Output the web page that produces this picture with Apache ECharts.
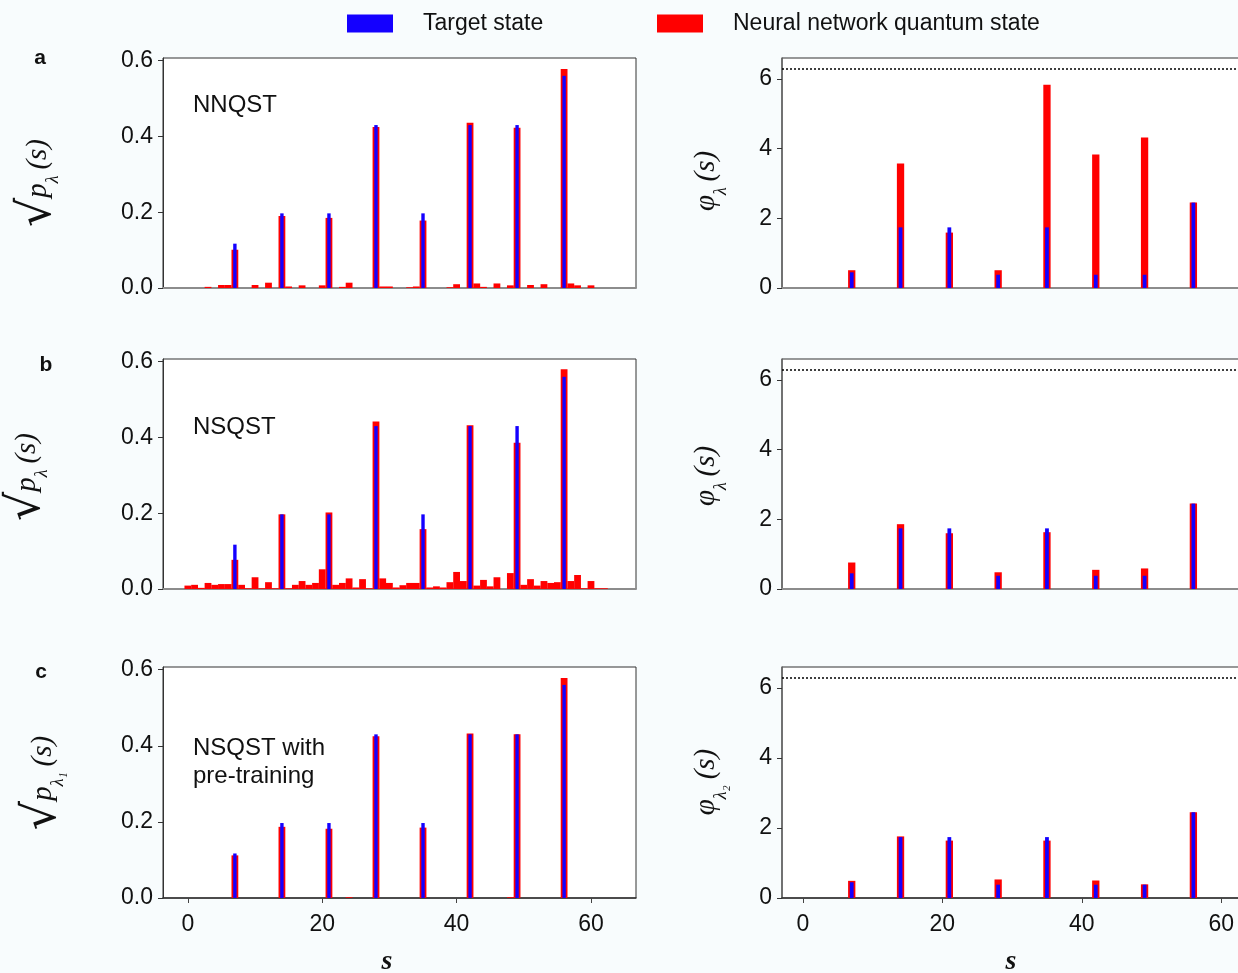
<!DOCTYPE html>
<html>
<head>
<meta charset="utf-8">
<script src="https://cdn.jsdelivr.net/npm/echarts@6/dist/echarts.min.js"></script>
<style>
html,body{margin:0;padding:0;background:#f8fcfd;}
#chart{width:1238px;height:973px;}
</style>
</head>
<body>
<div id="chart"></div>
<script>
// ---------------- data ----------------
const states = [0,1,2,3,4,5,6,7,8,9,10,11,12,13,14,15,16,17,18,19,20,21,22,23,24,25,26,27,28,29,30,31,
                32,33,34,35,36,37,38,39,40,41,42,43,44,45,46,47,48,49,50,51,52,53,54,55,56,57,58,59,60,61,62,63];
const peakStates = [7,14,21,28,35,42,49,56];

// target state (same in every row)
const targetAmp   = [0.117,0.197,0.197,0.430,0.197,0.430,0.430,0.560];
const targetPhase = [0.45,1.74,1.74,0.38,1.74,0.38,0.38,2.45];

// neural network quantum state amplitudes, s = 0..63
const ampNNQST = [0,0,0,0.003,0,0.008,0.008,0.101,0,0,0.008,0,0.014,0,0.190,0.004,
                  0,0.007,0,0,0.007,0.185,0,0.003,0.014,0,0,0,0.425,0.004,0.004,0,
                  0,0.002,0.004,0.178,0,0,0,0.002,0.010,0,0.436,0.012,0.003,0,0.012,0,
                  0.007,0.423,0,0.008,0,0.010,0,0,0.578,0.012,0.007,0,0.007,0,0,0];
const ampNSQST = [0.009,0.011,0.003,0.016,0.011,0.013,0.013,0.077,0.011,0.002,0.031,0.002,0.018,0.002,0.197,0.002,
                  0.011,0.021,0.011,0.016,0.052,0.202,0.011,0.016,0.028,0.004,0.026,0.002,0.442,0.028,0.016,0.004,
                  0.010,0.016,0.016,0.158,0.004,0.007,0.004,0.018,0.045,0.021,0.432,0.009,0.024,0.007,0.031,0,
                  0.042,0.386,0.011,0.026,0.009,0.021,0.016,0.018,0.580,0.021,0.037,0.002,0.021,0.002,0.002,0];
const ampPretrain = [0,0,0,0,0,0,0,0.112,0,0,0,0,0,0,0.187,0,
                     0,0,0,0,0,0.182,0,0,0.002,0,0,0,0.425,0,0,0,
                     0,0,0,0.185,0,0,0,0,0,0,0.432,0,0,0,0,0,
                     0.002,0.430,0,0,0,0,0,0,0.578,0,0,0,0,0,0,0];

// phases at the peak states
const phaseNNQST    = [0.51,3.57,1.59,0.51,5.83,3.83,4.32,2.45];
const phaseNSQST    = [0.76,1.86,1.60,0.48,1.63,0.55,0.59,2.45];
const phasePretrain = [0.49,1.76,1.64,0.53,1.64,0.50,0.39,2.45];

const ampTicks = [0,0.2,0.4,0.6];
const phaseTicks = [0,2,4,6];
const sTicks = [0,20,40,60];
const PHASE_PERIOD = 2 * Math.PI;

const NAME_TARGET = 'Target state';
const NAME_NN = 'Neural network quantum state';

// ---------------- layout ----------------
const SANS = '"Liberation Sans", Arial, sans-serif';
const SERIF = '"Liberation Serif", "Times New Roman", serif';
const rows = [{top:58,height:230},{top:359,height:230},{top:667,height:231}];
const L = {left:163, width:473, min:-3.7, max:66.7, ymax:0.607, redW:6.8, blueW:3.4};
const R = {left:782, width:486, min:-3.0, max:66.7, ymax:6.6, redW:7.3, blueW:3.8};

const panels = [
  {row:0, side:L, kind:'amp',   red:states.map((s,i)=>[s, ampNNQST[i]]),    blue:peakStates.map((s,i)=>[s,targetAmp[i]])},
  {row:0, side:R, kind:'phase', red:peakStates.map((s,i)=>[s, phaseNNQST[i]]), blue:peakStates.map((s,i)=>[s,targetPhase[i]])},
  {row:1, side:L, kind:'amp',   red:states.map((s,i)=>[s, ampNSQST[i]]),    blue:peakStates.map((s,i)=>[s,targetAmp[i]])},
  {row:1, side:R, kind:'phase', red:peakStates.map((s,i)=>[s, phaseNSQST[i]]), blue:peakStates.map((s,i)=>[s,targetPhase[i]])},
  {row:2, side:L, kind:'amp',   red:states.map((s,i)=>[s, ampPretrain[i]]), blue:peakStates.map((s,i)=>[s,targetAmp[i]])},
  {row:2, side:R, kind:'phase', red:peakStates.map((s,i)=>[s, phasePretrain[i]]), blue:peakStates.map((s,i)=>[s,targetPhase[i]])}
];

const grid = [], xAxis = [], yAxis = [], series = [];
panels.forEach((p, k) => {
  const side = p.side, row = rows[p.row];
  const bottomRow = p.row === 2;
  grid.push({left:side.left, top:row.top, width:side.width, height:row.height,
             show:true, backgroundColor:'#ffffff', borderColor:'#333', borderWidth:1,
             containLabel:false, outerBoundsMode:'none'});
  const xBase = {type:'value', gridIndex:k, min:side.min, max:side.max, splitLine:{show:false}};
  xAxis.push(Object.assign({}, xBase, {
    position:'bottom',
    axisLine:{show:true, onZero:false, lineStyle:{color: bottomRow ? '#333' : '#8c8c8c', width: bottomRow ? 1.5 : 2}},
    axisTick:{show:bottomRow, length:5, inside:false, customValues:sTicks, lineStyle:{color:'#444', width:1}},
    axisLabel:{show:bottomRow, customValues:sTicks, fontSize:23, fontFamily:SANS, color:'#111', margin:15}
  }));
  xAxis.push(Object.assign({}, xBase, {show:false}));
  const isAmp = p.kind === 'amp';
  const ticks = isAmp ? ampTicks : phaseTicks;
  yAxis.push({type:'value', gridIndex:k, min:0, max:side.ymax, splitLine:{show:false},
    axisLine:{show:true, onZero:false, lineStyle:{color: isAmp ? '#333' : '#666', width: isAmp ? 1 : 1.5}},
    axisTick:{show:true, length:5, customValues:ticks, lineStyle:{color:'#333'}},
    axisLabel:{customValues:ticks, fontSize:23, fontFamily:SANS, color:'#111', margin:10,
               formatter: v => isAmp ? v.toFixed(1) : String(v)}
  });
  const red = {type:'bar', name:NAME_NN, xAxisIndex:2*k, yAxisIndex:k, barWidth:side.redW,
               itemStyle:{color:'#ff0000'}, data:p.red, z:2, silent:true};
  if (!isAmp) {
    red.markLine = {silent:true, symbol:['none','none'], label:{show:false},
                    lineStyle:{color:'#000', type:[2,2], width:1.5},
                    data:[{yAxis:PHASE_PERIOD}]};
  }
  series.push(red);
  series.push({type:'bar', name:NAME_TARGET, xAxisIndex:2*k+1, yAxisIndex:k, barWidth:side.blueW,
               itemStyle:{color:'#1400ff'}, data:p.blue, z:3, silent:true});
});

function legendOf(name, left){
  return {left:left, top:12, padding:0, itemWidth:46, itemHeight:18, icon:'rect',
          selectedMode:false, data:[name],
          formatter: n => '{g|}{t|' + n + '}',
          textStyle:{rich:{g:{width:25}, t:{fontSize:23, fontFamily:SANS, color:'#111'}}}};
}

function yName(x, y, sqrt, sym, sub){
  const text = (sqrt ? '{r|√}' : '') + '{p|' + sym + '}{b|' + sub + '}{s|\u2009(s)}';
  return {type:'text', x:x, y:y, rotation:Math.PI/2, silent:true,
    style:{text:text, align:'center', verticalAlign:'middle', fill:'#111',
      rich:{
        r:{fontSize:46, fontFamily:'"DejaVu Serif", serif', lineHeight:48, fill:'#111'},
        p:{fontSize:29, fontStyle:'italic', fontFamily:SERIF, lineHeight:48, fill:'#111'},
        b:{fontSize:18, fontStyle:'italic', fontFamily:SERIF, lineHeight:30, verticalAlign:'bottom', fill:'#111'},
        s:{fontSize:29, fontStyle:'italic', fontFamily:SERIF, lineHeight:48, fill:'#111'}
      }}};
}
function plain(x, y, txt, font, align){
  return {type:'text', x:x, y:y, silent:true,
          style:{text:txt, font:font, fill:'#111', align:align||'left', verticalAlign:'middle', lineHeight:28}};
}

const graphic = [
  plain(40, 58, 'a', 'bold 21px ' + SANS, 'center'),
  plain(46, 365, 'b', 'bold 21px ' + SANS, 'center'),
  plain(41, 672, 'c', 'bold 21px ' + SANS, 'center'),
  plain(193, 105, 'NNQST', '24px ' + SANS),
  plain(193, 427, 'NSQST', '24px ' + SANS),
  plain(193, 762, 'NSQST with\npre-training', '24px ' + SANS),
  yName(38, 183, true, 'p', 'λ'),
  yName(27, 477, true, 'p', 'λ'),
  yName(43, 783, true, 'p', 'λ₁'),
  yName(706, 181, false, 'φ', 'λ'),
  yName(706, 476, false, 'φ', 'λ'),
  yName(706, 782, false, 'φ', 'λ₂'),
  plain(387, 962, 's', 'italic bold 28px ' + SERIF, 'center'),
  plain(1011, 962, 's', 'italic bold 28px ' + SERIF, 'center')
];

const chart = echarts.init(document.getElementById('chart'), null, {renderer:'canvas'});
chart.setOption({
  animation:false,
  backgroundColor:'#f8fcfd',
  textStyle:{fontFamily:SANS},
  legend:[legendOf(NAME_TARGET, 347), legendOf(NAME_NN, 657)],
  grid:grid, xAxis:xAxis, yAxis:yAxis, series:series, graphic:graphic
});
</script>
</body>
</html>
